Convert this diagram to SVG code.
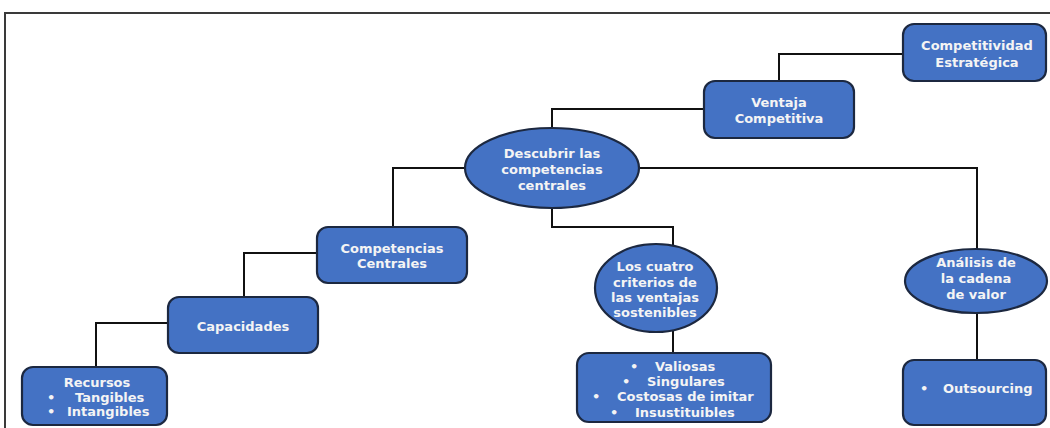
<svg xmlns="http://www.w3.org/2000/svg" width="1050" height="428" viewBox="0 0 1050 428">
  <style>
    .frame { fill: none; stroke: #3a3a3a; stroke-width: 2; }
    .edge { fill: none; stroke: #111111; stroke-width: 2; }
    .box { fill: #4472c4; stroke: #1c2840; stroke-width: 2.2; }
    .lbl { font-family: "DejaVu Sans", "Liberation Sans", sans-serif; font-weight: bold; font-size: 13px; fill: #f4f4f4; text-anchor: middle; }
    .lft { text-anchor: start; }
  </style>
  <rect width="1050" height="428" fill="#ffffff"/>
  <!-- outer frame (continues past the right and bottom edges) -->
  <path class="frame" d="M5,428 V13 H1052"/>

  <g id="connectors">
    <path class="edge" d="M903,54 H779 V82"/>
    <path class="edge" d="M704,109 H552 V130"/>
    <path class="edge" d="M466,168 H393 V228"/>
    <path class="edge" d="M639,168 H977 V251"/>
    <path class="edge" d="M552,207 V227 H673 V250"/>
    <path class="edge" d="M673,328 V354"/>
    <path class="edge" d="M977,311 V361"/>
    <path class="edge" d="M318,253 H244 V298"/>
    <path class="edge" d="M169,323 H96 V368"/>
  </g>

  <g id="competitividad">
    <rect class="box" x="903" y="24" width="143" height="57" rx="11"/>
    <text class="lbl" x="977" y="49.5">Competitividad</text>
    <text class="lbl" x="977" y="66.5">Estratégica</text>
  </g>

  <g id="ventaja">
    <rect class="box" x="704" y="81" width="150" height="57" rx="11"/>
    <text class="lbl" x="779" y="106.5">Ventaja</text>
    <text class="lbl" x="779" y="122.5">Competitiva</text>
  </g>

  <g id="descubrir">
    <ellipse class="box" cx="552" cy="168" rx="87" ry="40"/>
    <text class="lbl" x="552" y="157.5">Descubrir las</text>
    <text class="lbl" x="552" y="173.5">competencias</text>
    <text class="lbl" x="552" y="189.5">centrales</text>
  </g>

  <g id="competencias">
    <rect class="box" x="317" y="227" width="150" height="56" rx="11"/>
    <text class="lbl" x="392" y="252.5">Competencias</text>
    <text class="lbl" x="392" y="267.5">Centrales</text>
  </g>

  <g id="capacidades">
    <rect class="box" x="168" y="297" width="150" height="56" rx="11"/>
    <text class="lbl" x="243" y="330.5">Capacidades</text>
  </g>

  <g id="recursos">
    <rect class="box" x="22" y="367" width="145" height="58" rx="11"/>
    <text class="lbl" x="97" y="386.5">Recursos</text>
    <text class="lbl lft" x="47" y="401.5">•</text>
    <text class="lbl lft" x="75" y="401.5">Tangibles</text>
    <text class="lbl lft" x="47" y="415.5">•</text>
    <text class="lbl lft" x="67" y="415.5">Intangibles</text>
  </g>

  <g id="criterios">
    <ellipse class="box" cx="656" cy="288" rx="61" ry="44"/>
    <text class="lbl" x="655" y="270.5">Los cuatro</text>
    <text class="lbl" x="655" y="286.5">criterios de</text>
    <text class="lbl" x="655" y="301.5">las ventajas</text>
    <text class="lbl" x="655" y="316.5">sostenibles</text>
  </g>

  <g id="criterios-lista">
    <rect class="box" x="577" y="353" width="194" height="69" rx="12"/>
    <text class="lbl lft" x="630" y="370.5">•</text>
    <text class="lbl lft" x="655" y="370.5">Valiosas</text>
    <text class="lbl lft" x="622" y="385.5">•</text>
    <text class="lbl lft" x="647" y="385.5">Singulares</text>
    <text class="lbl lft" x="592" y="400.5">•</text>
    <text class="lbl lft" x="617" y="400.5">Costosas de imitar</text>
    <text class="lbl lft" x="610" y="416.5">•</text>
    <text class="lbl lft" x="635" y="416.5">Insustituibles</text>
  </g>

  <g id="cadena">
    <ellipse class="box" cx="976" cy="281" rx="71" ry="32"/>
    <text class="lbl" x="976" y="266.5">Análisis de</text>
    <text class="lbl" x="976" y="282.5">la cadena</text>
    <text class="lbl" x="976" y="298.5">de valor</text>
  </g>

  <g id="outsourcing">
    <rect class="box" x="903" y="360" width="143" height="65" rx="11"/>
    <text class="lbl lft" x="920" y="392.5">•</text>
    <text class="lbl lft" x="943" y="392.5">Outsourcing</text>
  </g>
</svg>
